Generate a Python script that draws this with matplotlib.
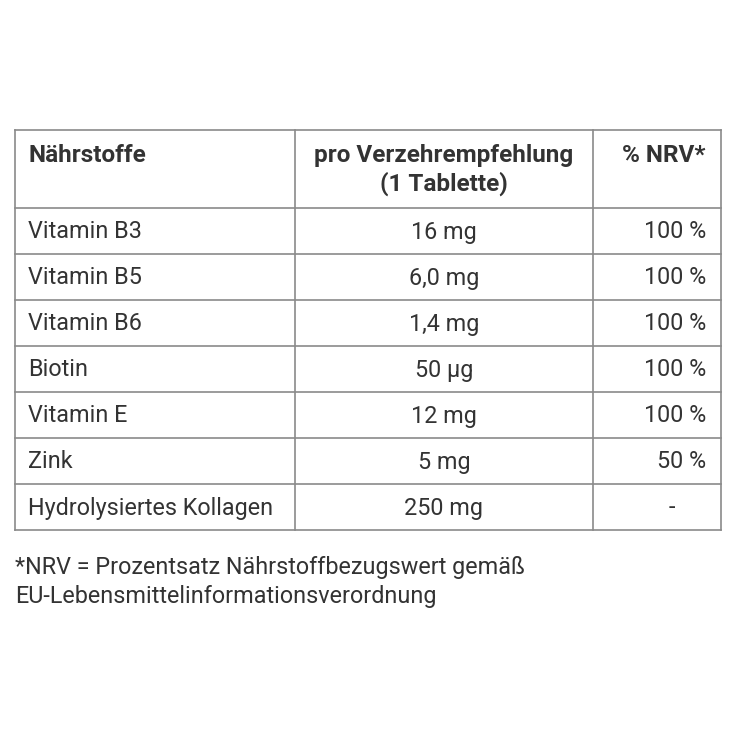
import matplotlib
matplotlib.use("Agg")
import matplotlib.pyplot as plt

nutrients = ["Vitamin B3", "Vitamin B5", "Vitamin B6", "Biotin", "Vitamin E", "Zink", "Hydrolysiertes Kollagen"]
amounts = ["16 mg", "6,0 mg", "1,4 mg", "50 µg", "12 mg", "5 mg", "250 mg"]
nrv = ["100 %", "100 %", "100 %", "100 %", "100 %", "50 %", "-"]
headers = ["Nährstoffe", "pro Verzehrempfehlung\n(1 Tablette)", "% NRV*"]
footnote = "*NRV = Prozentsatz Nährstoffbezugswert gemäß\nEU-Lebensmittelinformationsverordnung"

fam = ["Liberation Sans Narrow", "Roboto", "DejaVu Sans"]
fig = plt.figure(figsize=(7.38, 7.38), dpi=100)
ax = fig.add_axes([0, 0, 1, 1])
ax.set_xlim(0, 738); ax.set_ylim(738, 0); ax.axis("off")

L, R, c1, c2 = 15, 721, 295, 593
top, hb, rh = 130, 208, 46
bottom = hb + rh * len(nutrients)
lc = "#8a8a8a"; lw = 1.2
ys = [top, hb] + [hb + rh * (i + 1) for i in range(len(nutrients))]
for y in ys:
    ax.plot([L, R], [y, y], color=lc, lw=lw)
for x in [L, c1, c2, R]:
    ax.plot([x, x], [top, bottom], color=lc, lw=lw)

tc = "#333333"; fs = 16.8; hfs = 17.5
ax.text(28, 155, headers[0], fontsize=hfs, fontweight="bold", family=fam, color=tc, va="center")
ax.text(444, 170, headers[1], fontsize=hfs, fontweight="bold", family=fam, color=tc, va="center", ha="center", linespacing=1.25)
ax.text(706, 155, headers[2], fontsize=hfs, fontweight="bold", family=fam, color=tc, va="center", ha="right")
for i, (n, a, p) in enumerate(zip(nutrients, amounts, nrv)):
    y = hb + rh * i + 24
    ax.text(28, y, n, fontsize=fs, family=fam, color=tc, va="center")
    ax.text(444, y, a, fontsize=fs, family=fam, color=tc, va="center", ha="center")
    ax.text(706 if p != "-" else 672, y, p, fontsize=fs, family=fam, color=tc, va="center", ha="right" if p != "-" else "center")
ax.text(15, 582, footnote, fontsize=fs, family=fam, color=tc, va="center", linespacing=1.3)
fig.savefig("out.png", dpi=100, facecolor="white")
